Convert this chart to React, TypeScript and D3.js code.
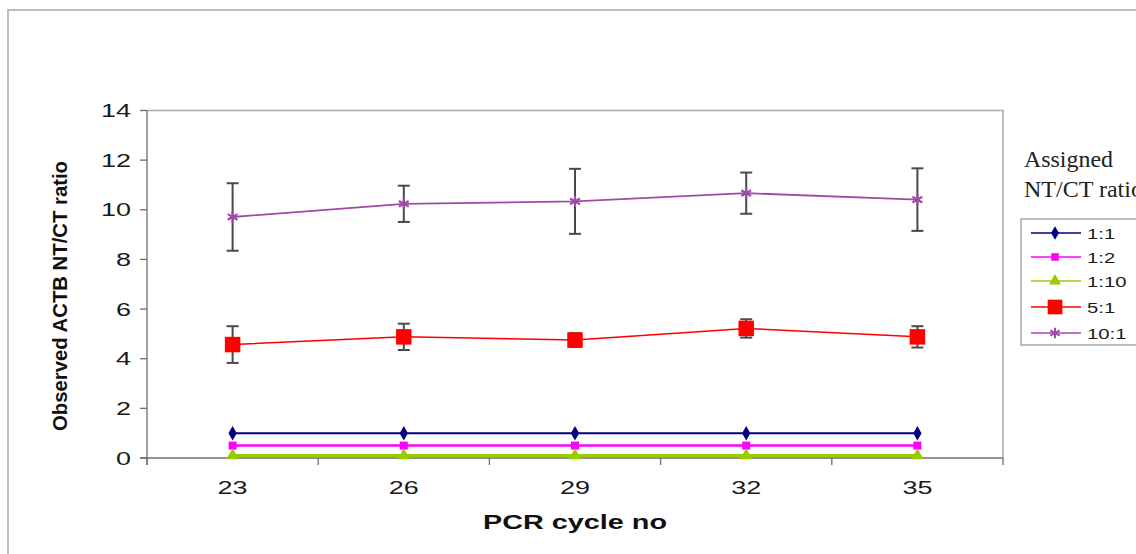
import React from 'react';
import * as d3 from 'd3';

// chart values
const cycles = ['23', '26', '29', '32', '35'];
const ratio11 = [1, 1, 1, 1, 1];
const ratio12 = [0.5, 0.5, 0.5, 0.5, 0.5];
const ratio110 = [0.1, 0.1, 0.1, 0.1, 0.1];
const ratio51 = [4.57, 4.88, 4.75, 5.22, 4.88];
const err51 = [0.74, 0.53, 0.28, 0.37, 0.43];
const ratio101 = [9.71, 10.24, 10.34, 10.67, 10.41];
const err101 = [1.36, 0.73, 1.31, 0.83, 1.26];
const yTicks = [0, 2, 4, 6, 8, 10, 12, 14];
const seriesNames = ['1:1', '1:2', '1:10', '5:1', '10:1'];

const W = 1136;
const H = 554;
const left = 147, right = 1003, top = 110.5, bottom = 458;

const series = [
  { name: seriesNames[0], values: ratio11, err: null, color: '#000080', width: 2, symbol: d3.symbolDiamond, size: 60, fill: true },
  { name: seriesNames[1], values: ratio12, err: null, color: '#ff00ff', width: 2.5, symbol: d3.symbolSquare, size: 64, fill: true },
  { name: seriesNames[2], values: ratio110, err: null, color: '#99cc00', width: 3, symbol: d3.symbolTriangle, size: 70, fill: true },
  { name: seriesNames[3], values: ratio51, err: err51, color: '#ff0000', width: 1.5, symbol: d3.symbolSquare, size: 240, fill: true },
  { name: seriesNames[4], values: ratio101, err: err101, color: '#a04aa8', width: 1.8, symbol: d3.symbolAsterisk, size: 90, fill: false },
];

export default function App() {
  const x = d3.scaleBand().domain(cycles).range([left, right]);
  const y = d3.scaleLinear().domain([0, 14]).range([bottom, top]);
  const cx = (c: string) => (x(c) as number) + x.bandwidth() / 2;

  const line = d3.line<number>()
    .x((d, i) => cx(cycles[i]))
    .y((d) => y(d));

  const tickFont = 'Liberation Sans, Arial, sans-serif';
  const boundaries = cycles.map((c) => x(c) as number).concat([right]);

  return (
    <svg width={W} height={H} style={{ position: 'absolute', left: 0, top: 0, background: '#fff' }}>
      {/* outer chart frame */}
      <path d={`M8,${H + 2} V10 H${W + 2}`} fill="none" stroke="#bdbdbd" strokeWidth={2} />

      {/* plot area border */}
      <path d={`M${left},${top} H${right} V${bottom}`} fill="none" stroke="#a8a8a8" strokeWidth={1.5} />

      {/* y axis */}
      <line x1={left} x2={left} y1={top} y2={bottom + 7} stroke="#6e6e6e" strokeWidth={1.3} />
      {yTicks.map((t) => (
        <g key={t}>
          <line x1={left - 7} x2={left} y1={y(t)} y2={y(t)} stroke="#6e6e6e" strokeWidth={1.3} />
          <text transform={`translate(131,${y(t) + 6.5}) scale(1.5,1)`} textAnchor="end"
            fontFamily={tickFont} fontSize={18} fill="#1a1a1a">{t}</text>
        </g>
      ))}

      {/* x axis */}
      <line x1={left - 7} x2={right} y1={bottom} y2={bottom} stroke="#6e6e6e" strokeWidth={1.3} />
      {boundaries.map((b, i) => (
        <line key={i} x1={b} x2={b} y1={bottom} y2={bottom + 7} stroke="#6e6e6e" strokeWidth={1.3} />
      ))}
      {cycles.map((c) => (
        <text key={c} transform={`translate(${cx(c)},${494}) scale(1.5,1)`} textAnchor="middle"
          fontFamily={tickFont} fontSize={18} fill="#1a1a1a">{c}</text>
      ))}

      {/* axis titles */}
      <text x={575} y={529} textAnchor="middle" fontFamily={tickFont} fontWeight="bold" fontSize={20}
        textLength={184} lengthAdjust="spacingAndGlyphs" fill="#111">PCR cycle no</text>
      <text transform="translate(67,296) rotate(-90)" textAnchor="middle"
        fontFamily="Liberation Sans Narrow, Arial Narrow, Liberation Sans, sans-serif" fontWeight="bold" fontSize={21}
        textLength={270} lengthAdjust="spacingAndGlyphs" fill="#111">Observed ACTB NT/CT ratio</text>

      {/* series lines */}
      {series.map((s) => (
        <path key={s.name} d={line(s.values) as string} fill="none" stroke={s.color} strokeWidth={s.width} />
      ))}

      {/* error bars */}
      {series.filter((s) => s.err).map((s) => (
        <g key={s.name + 'err'}>
          {s.values.map((v, i) => {
            const e = (s.err as number[])[i];
            const px = cx(cycles[i]);
            return (
              <g key={i} stroke="#4a4a4a" strokeWidth={2}>
                <line x1={px} x2={px} y1={y(v + e)} y2={y(v - e)} />
                <line x1={px - 6} x2={px + 6} y1={y(v + e)} y2={y(v + e)} />
                <line x1={px - 6} x2={px + 6} y1={y(v - e)} y2={y(v - e)} />
              </g>
            );
          })}
        </g>
      ))}

      {/* markers */}
      {series.map((s) => (
        <g key={s.name + 'm'}>
          {s.values.map((v, i) => (
            <path key={i} transform={`translate(${cx(cycles[i])},${y(v)})`}
              d={d3.symbol().type(s.symbol).size(s.size)() as string}
              fill={s.fill ? s.color : 'none'} stroke={s.fill ? 'none' : s.color} strokeWidth={2.2} />
          ))}
        </g>
      ))}

      {/* legend */}
      <text x={1024} y={167} fontFamily="Liberation Serif, Times New Roman, serif" fontSize={23}
        textLength={89} lengthAdjust="spacingAndGlyphs" fill="#222">Assigned</text>
      <text x={1024} y={197} fontFamily="Liberation Serif, Times New Roman, serif" fontSize={24} fill="#222">NT/CT ratio</text>
      <rect x={1021} y={219} width={130} height={126} fill="#fff" stroke="#a8a8a8" strokeWidth={1.5} />
      {series.map((s, i) => {
        const ly = [233, 257, 281, 307, 333][i];
        return (
          <g key={s.name + 'lg'}>
            <line x1={1031} x2={1081} y1={ly} y2={ly} stroke={s.color} strokeWidth={1.5} />
            <path transform={`translate(1055,${ly})`}
              d={d3.symbol().type(s.symbol).size(s.size * 0.9)() as string}
              fill={s.fill ? s.color : 'none'} stroke={s.fill ? 'none' : s.color} strokeWidth={2} />
            <text transform={`translate(1087,${ly + 5.5}) scale(1.4,1)`} fontFamily={tickFont}
              fontSize={14.5} fill="#1a1a1a">{s.name}</text>
          </g>
        );
      })}
    </svg>
  );
}
